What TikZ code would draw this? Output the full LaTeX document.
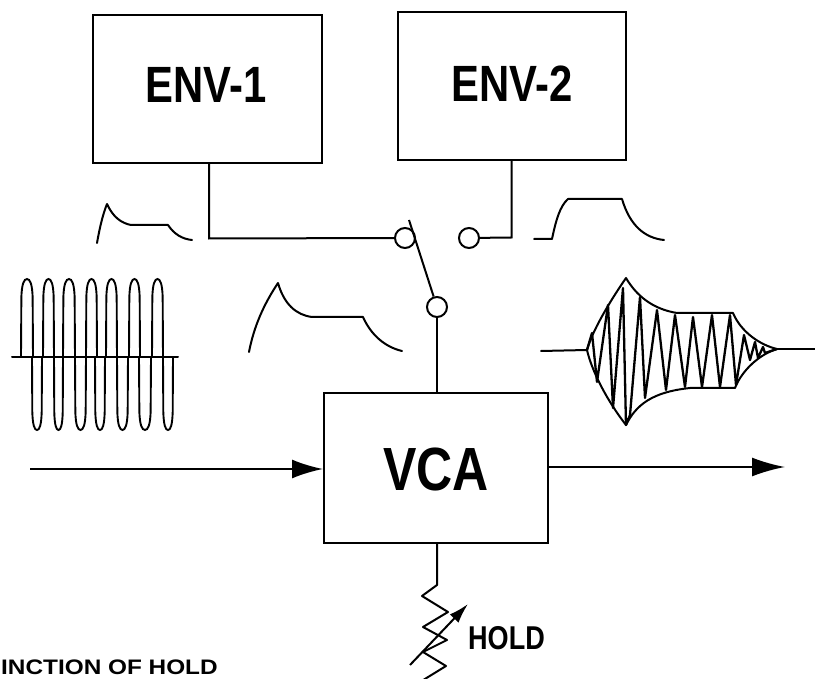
\documentclass[tikz,border=0pt]{standalone}
\usepackage{fontspec}
\setmainfont{Liberation Sans}
\newfontfamily\narrowf[FakeStretch=0.82]{Liberation Sans}
\newfontfamily\widef[FakeStretch=1.16]{Liberation Sans}
\usetikzlibrary{arrows.meta}
\tikzset{
  blockbox/.style={draw=black,line width=2pt,inner sep=0pt},
  term/.style={circle,draw=black,line width=2pt,minimum size=20pt,inner sep=0pt},
  wire/.style={draw=black,line width=2pt},
  curve/.style={draw=black,line width=2pt,line join=round,line cap=round},
  lobe/.style={draw=black,line width=1.9pt},
  zig/.style={draw=black,line width=2.3pt,line join=round},
  label/.style={text=black,inner sep=0pt}
}
\begin{document}
\begin{tikzpicture}[x=1pt,y=-1pt]
\useasboundingbox (0,0) rectangle (815,679);
\fill[white] (0,0) rectangle (815,679);
\node[blockbox,minimum width=229pt,minimum height=148pt] (env1) at (207.5,89) {};
\node[blockbox,minimum width=228pt,minimum height=148pt] (env2) at (512,86) {};
\node[blockbox,minimum width=224pt,minimum height=150pt] (vca) at (436,468) {};
\node[label,font=\fontsize{51}{51}\narrowf\bfseries] (env1t) at (206,85) {ENV-1};
\node[label,font=\fontsize{51}{51}\narrowf\bfseries] (env2t) at (512,84) {ENV-2};
\node[label,font=\fontsize{61}{61}\narrowf\bfseries] (vcat) at (436,470) {VCA};
\node[term] (t1) at (405,238) {};
\node[term] (t2) at (469,238) {};
\node[term] (t3) at (437,307) {};
\coordinate (j1) at (209,238.5);
\coordinate (j2) at (511.5,237.5);
\coordinate (swtip) at (409,220);
\coordinate (inL) at (30,469);
\coordinate (outR) at (785,467);
\coordinate (r0) at (437,585);
\draw[wire] (env1.south -| j1) -- (j1) -- (t1);
\draw[wire] (env2.south -| j2) -- (j2) -- (t2);
\draw[wire] (t3) -- (swtip);
\draw[wire] (t3) -- (t3 |- vca.north);
\draw[wire,-{Latex[length=31pt,width=19pt]}] (inL) -- (inL -| vca.west);
\draw[wire,-{Latex[length=33pt,width=19pt]}] (vca.east |- outR) -- (outR);
\begin{scope}
\clip (0,0) rectangle (815,679);
\draw[wire,line join=round] (vca.south -| r0) -- (r0) -- (422,596) -- (448,612) -- (423,627) -- (447,640) -- (423,652) -- (446,666) -- (420,682);
\end{scope}
\draw[wire,-{Latex[length=20pt,width=12pt]}] (410,665) -- (468,604);
\node[label,font=\fontsize{33}{33}\narrowf\bfseries,anchor=base west] (hold) at (468,649) {HOLD};
\node[label,font=\fontsize{21}{21}\widef\bfseries,anchor=base west] (cap) at (1,674) {INCTION OF HOLD};
% envelope sketches
\draw[curve] (97,243) .. controls (100,226) and (103,214) .. (107,204) .. controls (113,217) and (121,223) .. (131,225) -- (168,225) .. controls (174,234) and (182,239) .. (192,240);
\draw[curve] (249,352) .. controls (254,326) and (264,304) .. (278,283) .. controls (284,304) and (296,315) .. (312,317) -- (363,317) .. controls (371,335) and (385,347) .. (402,351);
\draw[curve] (534,239) -- (552,239) .. controls (556,220) and (560,206) .. (568,199) -- (622,199) .. controls (630,226) and (645,238) .. (664,240);
% input sine burst
\draw[curve] (12,357) -- (178,357);
\foreach \a/\b/\t in {21/33/279,43/54/279,63/75/279,86/97/279,106/117/279,129/140/279,152/163/279,
                      32/42/430,54/63/430,75/86/430,95/105/430,117/128/430,139/151/430,163/173/430}{
  \pgfmathsetmacro{\w}{\b-\a}
  \pgfmathsetmacro{\m}{(\a+\b)/2}
  \pgfmathsetmacro{\s}{\t<357 ? 12 : -12}
  \draw[lobe] (\a,357) -- ({\a+0.03*\w},{\t+\s*1.5}) .. controls ({\a+0.07*\w},{\t+\s*0.4}) and ({\a+0.25*\w},\t) .. (\m,\t)
              .. controls ({\b-0.25*\w},\t) and ({\b-0.07*\w},{\t+\s*0.4}) .. ({\b-0.03*\w},{\t+\s*1.5}) -- (\b,357);
}
% output envelope and carrier
\draw[curve] (541,351) -- (587,350);
\draw[curve] (777,349) -- (815,349);
\draw[curve] (587,350) .. controls (592,332) and (608,304) .. (626,278) .. controls (636,295) and (652,309) .. (677,313) -- (733,313) .. controls (741,332) and (760,345) .. (777,349);
\draw[curve] (587,350) .. controls (592,372) and (608,402) .. (626,425) .. controls (636,405) and (652,392) .. (690,388) -- (735,388) .. controls (742,370) and (760,354) .. (777,349);
\draw[zig] (587,350) -- (592,333) -- (597,382) -- (608,305) -- (613,408) -- (623,288) -- (626,425) -- (630,415) -- (640,297) -- (645,398) -- (657,310) -- (666,390) -- (675,315) -- (685,387) -- (693,317) -- (702,387) -- (712,315) -- (720,387) -- (730,315) -- (736,385) -- (744,335) -- (750,360) -- (755,342) -- (758,358) -- (763,347) -- (765,353) -- (777,349);
\end{tikzpicture}
\end{document}
